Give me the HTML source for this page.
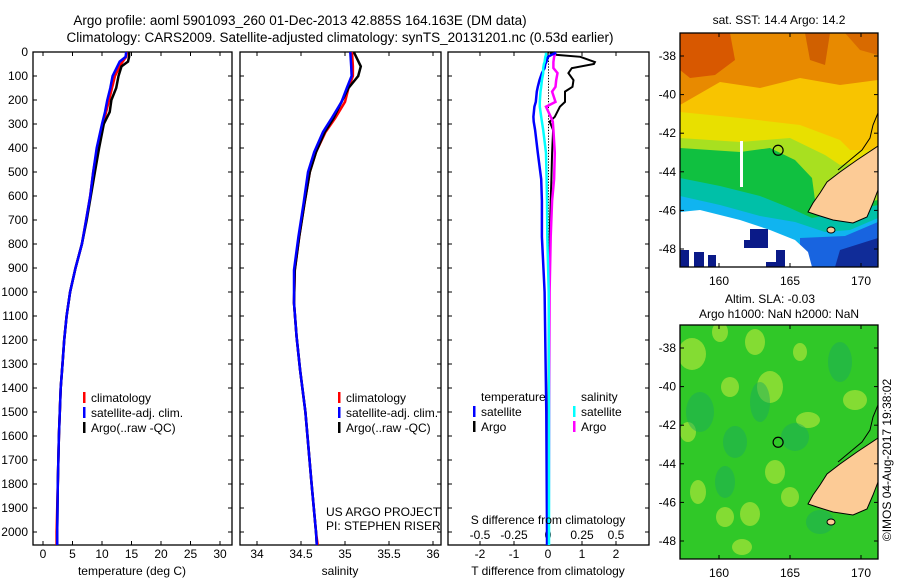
<!DOCTYPE html>
<html><head><meta charset="utf-8"><style>
body{margin:0;background:#fff;}
svg{display:block;font-family:"Liberation Sans",sans-serif;}
</style></head><body>
<svg id="fig" width="900" height="580" viewBox="0 0 900 580">
<text x="300" y="25" font-size="13.5" text-anchor="middle">Argo profile: aoml 5901093_260 01-Dec-2013 42.885S 164.163E (DM data)</text>
<text x="340" y="42" font-size="13.5" text-anchor="middle">Climatology: CARS2009. Satellite-adjusted climatology: synTS_20131201.nc (0.53d earlier)</text>
<g id="panels"></g>
<g id="maps"></g>
<text transform="translate(891,460) rotate(-90)" font-size="12" text-anchor="middle">©IMOS 04-Aug-2017 19:38:02</text>
</svg>
<script>
const NS='http://www.w3.org/2000/svg';
// ---- data ----
const depthTicks=[0,100,200,300,400,500,600,700,800,900,1000,1100,1200,1300,1400,1500,1600,1700,1800,1900,2000];
const tempTicks=[0,5,10,15,20,25,30];
const salTicks=[34,34.5,35,35.5,36];
const tdiffTicks=[-2,-1,0,1,2];
const sdiffTicks=[-0.5,-0.25,0,0.25,0.5];
const tDepth=[0,20,40,60,100,150,200,250,300,400,500,600,700,800,900,1000,1100,1200,1300,1400,1600,1800,2000,2054];
const tClim=[14.2,14.1,13.5,13.0,12.2,11.7,11.2,10.7,10.2,9.2,8.5,8.0,7.3,6.6,5.5,4.6,4.0,3.6,3.3,3.0,2.7,2.5,2.3,2.3];
const tSat=[14.1,14.0,13.0,12.6,11.8,11.4,10.9,10.5,10.0,9.1,8.5,8.0,7.3,6.6,5.5,4.6,4.0,3.6,3.3,3.0,2.7,2.5,2.4,2.4];
const tArgo=[14.6,14.6,14.4,13.3,12.8,12.4,11.6,11.3,10.3,9.5,8.8,8.1,7.4,6.6,5.5,4.6,4.0,3.6,3.3,3.0,2.7,2.5,2.4,2.4];
const sDepth=[0,60,100,150,208,275,333,417,500,630,770,908,1046,1187,1325,1500,1800,2000,2054];
const sClim=[35.08,35.09,35.09,35.04,35.0,34.89,34.78,34.67,34.6,34.54,34.48,34.43,34.42,34.45,34.49,34.55,34.62,34.67,34.69];
const sSat=[35.06,35.07,35.075,35.02,34.96,34.85,34.75,34.65,34.58,34.53,34.47,34.42,34.42,34.45,34.49,34.55,34.62,34.67,34.68];
const sArgo=[35.1,35.18,35.15,35.04,34.96,34.87,34.77,34.67,34.6,34.54,34.48,34.43,34.42,34.45,34.49,34.55,34.62,34.67,34.68];
const dDepth=[3,12,20,42,50,67,88,117,145,165,208,228,270,290,325,420,530,620,770,1000,1500,2000,2054];
const dTArgo=[0.05,0.26,0.95,1.38,1.35,0.7,0.6,0.75,0.72,0.5,0.5,0.35,0.2,0.05,0.15,0.12,0.1,0.08,0.05,0.03,0.01,0.0,0.0];
const dTSat=[0.24,0.1,0.0,-0.05,-0.08,-0.1,-0.18,-0.25,-0.3,-0.33,-0.36,-0.4,-0.43,-0.42,-0.38,-0.3,-0.2,-0.18,-0.18,-0.1,-0.05,-0.03,-0.03];
const dSSat=[-0.015,-0.015,-0.02,-0.025,-0.03,-0.035,-0.035,-0.045,-0.05,-0.055,-0.06,-0.06,-0.05,-0.045,-0.035,-0.015,-0.01,-0.007,-0.005,0.005,0.007,0.007,0.007];
const dSArgo=[0.05,0.05,0.045,0.04,0.04,0.04,0.07,0.06,0.055,0.03,0.055,-0.015,0.02,0.035,0.04,0.05,0.045,0.03,0.02,0.012,0.008,0.005,0.005];

const yD=z=>52+z*0.24;
const g=document.getElementById('panels');
function el(tag,attrs,parent){const e=document.createElementNS(NS,tag);for(const k in attrs)e.setAttribute(k,attrs[k]);(parent||g).appendChild(e);return e;}
function txt(x,y,s,anchor,size,parent){const t=el('text',{x:x,y:y,'font-size':size||12,'text-anchor':anchor||'middle'},parent);t.textContent=s;return t;}

function frame(L,R,name){
  const r=el('rect',{x:L,y:52,width:R-L,height:493,fill:'none',stroke:'#000','stroke-width':1.3});
  
  
  depthTicks.forEach(d=>{
    el('line',{x1:L,x2:L+4,y1:yD(d),y2:yD(d),stroke:'#000'});
    el('line',{x1:R-4,x2:R,y1:yD(d),y2:yD(d),stroke:'#000'});
  });
}
function xticks(vals,fx,labels,ly){
  vals.forEach(v=>{const x=fx(v);
    el('line',{x1:x,x2:x,y1:52,y2:56,stroke:'#000'});
    el('line',{x1:x,x2:x,y1:541,y2:545,stroke:'#000'});
    if(labels){const t=txt(x,ly,String(v));
      
      }
  });
}
function line(xs,zs,fx,color,name,w){
  const pts=xs.map((v,i)=>fx(v).toFixed(1)+','+yD(zs[i]).toFixed(1)).join(' ');
  const p=el('polyline',{points:pts,fill:'none',stroke:color,'stroke-width':w||2.5,'stroke-linejoin':'miter'});
  
  
}
function legend(x,y,items){
  items.forEach((it,i)=>{
    el('rect',{x:x,y:y+i*15-10,width:2.5,height:11,fill:it[0]});
    const t=txt(x+8,y+i*15,it[1],'start',12);
    
    
  });
}
// Panel 1
const xT=t=>43+t*5.9;
frame(33,232,'temperature-panel');
xticks(tempTicks,xT,true,558);
depthTicks.forEach(d=>{const t=txt(28,yD(d)+4,String(d),'end',12);
  
  });
line(tClim,tDepth,xT,'#f00','temp-climatology-line');
line(tArgo,tDepth,xT,'#000','temp-argo-line');
line(tSat,tDepth,xT,'#00f','temp-satellite-line');
legend(83,402,[['#f00','climatology'],['#00f','satellite-adj. clim.'],['#000','Argo(..raw -QC)']]);
txt(132,575,'temperature (deg C)');
// Panel 2
const xS=s=>257+(s-34)*88;
frame(240,441,'salinity-panel');
xticks(salTicks,xS,true,558);
line(sClim,sDepth,xS,'#f00','sal-climatology-line');
line(sArgo,sDepth,xS,'#000','sal-argo-line');
line(sSat,sDepth,xS,'#00f','sal-satellite-line');
legend(338,402,[['#f00','climatology'],['#00f','satellite-adj. clim.'],['#000','Argo(..raw -QC)']]);
txt(340,575,'salinity');
txt(326,516,'US ARGO PROJECT','start',12);
txt(326,530,'PI: STEPHEN RISER','start',12);
// Panel 3
const xDT=d=>548+d*34, xDS=d=>548+d*136;
frame(448,649,'difference-panel');
xticks(tdiffTicks,xDT,true,558);
sdiffTicks.forEach(v=>{const t=txt(xDS(v),539,String(v),'middle',12);
  
  });
for(let d=0;d<2050;d+=12){el('rect',{x:548,y:yD(d),width:1,height:1.3,fill:'#000'});}
line(dTArgo,dDepth,xDT,'#000','t-diff-argo-line',2);
line(dSArgo,dDepth,xDS,'#f0f','s-diff-argo-line',2.5);
line(dTSat,dDepth,xDT,'#00f','t-diff-satellite-line',2.5);
line(dSSat,dDepth,xDS,'#0ff','s-diff-satellite-line',2.5);
txt(481,401,'temperature','start',12);
txt(581,401,'salinity','start',12);
legend(473,416,[['#00f','satellite'],['#000','Argo']]);
legend(573,416,[['#0ff','satellite'],['#f0f','Argo']]);
txt(548,524,'S difference from climatology');
txt(548,575,'T difference from climatology');

// ---- maps ----
const mg=document.getElementById('maps');
const lonTicks=[160,165,170], latTicks=[-38,-40,-42,-44,-46,-48];
const px=lon=>719+(lon-160)*14.2;
function map(top,name,isSST){
  const py=lat=>top+23+(-38-lat)*19.3;
  const gg=el('g',{},mg);
  
  
  el('clipPath',{id:'c'+top},gg);
  el('rect',{x:680,y:top,width:198,height:234},gg.lastChild);
  const b=el('g',{'clip-path':'url(#c'+top+')'},gg);
  const P=(pts,f)=>el('polygon',{points:pts.map(p=>p[0]+','+(p[1]+top-33)).join(' '),fill:f},b);
  if(isSST){
    el('rect',{x:680,y:top,width:198,height:234,fill:'#f8c400'},b);
    P([[680,33],[878,33],[878,80],[840,85],[800,78],[760,88],[720,82],[680,105]],'#e88a00');
    P([[680,33],[730,33],[735,60],[715,75],[690,78],[680,70]],'#d85800');
    P([[805,33],[830,33],[825,65],[810,60]],'#d06000');
    P([[845,33],[878,33],[878,55],[860,50]],'#d86a00');
    P([[680,112],[740,118],[800,125],[840,140],[850,150],[878,150],[878,267],[680,267]],'#e8e000');
    P([[680,138],[740,142],[790,138],[825,155],[840,165],[878,160],[878,267],[680,267]],'#a8e020');
    P([[680,148],[740,152],[770,148],[795,160],[812,178],[815,200],[812,214],[878,200],[878,267],[680,267]],'#10c040');
    P([[680,178],[720,186],[760,196],[790,208],[812,218],[878,205],[878,267],[680,267]],'#00c0a8');
    P([[680,196],[720,205],[760,216],[795,222],[825,232],[850,230],[878,218],[878,267],[680,267]],'#10b4f0');
    P([[800,238],[845,236],[878,222],[878,267],[800,267]],'#1864e0');
    P([[840,250],[878,238],[878,267],[835,267]],'#102c98');
    P([[680,212],[700,210],[740,220],[770,230],[795,240],[808,252],[812,267],[680,267]],'#ffffff');
    [[750,229,18,19],[744,240,8,8],[680,250,9,17],[694,252,10,15],[708,255,8,12],[776,250,9,17],[766,262,10,5]].forEach(r=>el('rect',{x:r[0],y:r[1]+top-33,width:r[2],height:r[3],fill:'#0a1a88'},b));
    el('rect',{x:740,y:top+108,width:3,height:46,fill:'#fff'},b);
  } else {
    el('rect',{x:680,y:top,width:198,height:234,fill:'#30c828'},b);
    [[692,62,14,16],[720,40,8,10],[755,50,10,13],[770,95,13,16],[730,95,9,10],[808,128,12,8],[775,180,10,12],[790,205,9,10],[688,140,8,10],[698,200,8,12],[725,225,9,10],[750,222,10,12],[742,255,10,8],[855,108,12,10],[800,60,7,9]].forEach(e=>el('ellipse',{cx:e[0],cy:e[1]+top-33,rx:e[2],ry:e[3],fill:'#a8e438',opacity:0.7},b));
    [[700,120,14,20],[735,150,12,16],[795,145,14,14],[725,190,10,16],[820,230,14,12],[760,110,10,20],[840,70,12,20]].forEach(e=>el('ellipse',{cx:e[0],cy:e[1]+top-33,rx:e[2],ry:e[3],fill:'#18a860',opacity:0.45},b));
  }
  // land
  const land=[[878,146],[857,160],[840,172],[827,182],[820,193],[813,203],[808,212],[817,215],[833,220],[853,223],[867,217],[873,203],[878,190]];
  el('polygon',{points:land.map(p=>p[0]+','+(p[1]+top-33)).join(' '),fill:'#fccb96',stroke:'#000','stroke-width':1},b);
  el('ellipse',{cx:831,cy:230+top-33,rx:4,ry:3,fill:'#fccb96',stroke:'#000','stroke-width':1},b);
  el('polyline',{points:[[878,113],[873,125],[870,138],[862,150],[850,160],[838,170]].map(p=>p[0]+','+(p[1]+top-33)).join(' '),fill:'none',stroke:'#000','stroke-width':1},b);
  el('rect',{x:680,y:top,width:198,height:234,fill:'none',stroke:'#000','stroke-width':1.3},gg);
  el('circle',{cx:px(164.163),cy:py(-42.885),r:5,fill:'none',stroke:'#000','stroke-width':1.2},gg);
  lonTicks.forEach(l=>{const x=px(l);
    el('line',{x1:x,x2:x,y1:top,y2:top+4,stroke:'#000'},gg);
    el('line',{x1:x,x2:x,y1:top+230,y2:top+234,stroke:'#000'},gg);
    txt(x,top+252,String(l),'middle',12,gg);});
  latTicks.forEach(l=>{const y=py(l);
    el('line',{x1:680,x2:684,y1:y,y2:y,stroke:'#000'},gg);
    el('line',{x1:874,x2:878,y1:y,y2:y,stroke:'#000'},gg);
    txt(676,y+4,String(l),'end',12,gg);});
}
map(33,'sst-map',true);
map(325,'sla-map',false);
txt(779,24,'sat. SST: 14.4 Argo: 14.2','middle',12,mg);
txt(770,303,'Altim. SLA: -0.03','middle',12,mg);
txt(779,318,'Argo h1000: NaN h2000: NaN','middle',12,mg);
</script>
</body></html>
